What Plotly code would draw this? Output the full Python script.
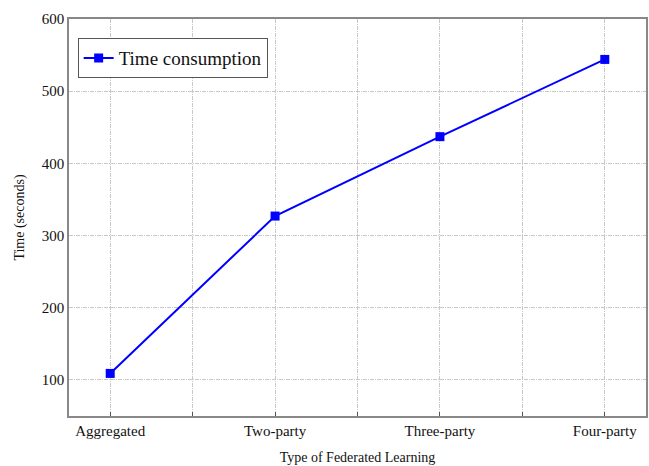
import plotly.graph_objects as go

categories = ["Aggregated", "Two-party", "Three-party", "Four-party"]
time_values = [109, 327, 437, 544]
y_ticks = [100, 200, 300, 400, 500, 600]

x_idx = list(range(len(categories)))
tickvals = [i * 0.5 for i in range(2 * len(categories) - 1)]
ticktext = [categories[int(v)] if v == int(v) else "" for v in tickvals]

FONT = "Liberation Serif, Times New Roman, serif"

fig = go.Figure()
fig.add_trace(go.Scatter(
    x=x_idx, y=time_values, mode="lines+markers", name="Time consumption",
    line=dict(color="#0000ff", width=2),
    marker=dict(symbol="square", size=9, color="#0000ff"),
))

fig.update_layout(
    width=649, height=466,
    margin=dict(l=69, r=1, t=19, b=50),
    paper_bgcolor="white", plot_bgcolor="white",
    font=dict(family=FONT, size=14, color="#111111"),
    showlegend=True,
    legend=dict(x=0.015, y=0.952, xanchor="left", yanchor="top",
                bordercolor="#555555", borderwidth=1, bgcolor="white",
                font=dict(family=FONT, size=19, color="#111111"),
                itemwidth=30, tracegroupgap=0),
)
fig.update_xaxes(
    range=[-0.25, 3.25], tickvals=tickvals, ticktext=ticktext,
    showgrid=True, gridcolor="#c8c8c8", griddash="4px,1px,1px,1px", gridwidth=1,
    showline=True, linecolor="#888888", linewidth=1.5, mirror=True,
    ticks="inside", ticklen=4, tickcolor="#555555",
    tickfont=dict(family=FONT, size=15, color="#111111"),
    title=dict(text="Type of Federated Learning", standoff=14,
               font=dict(family=FONT, size=14, color="#111111")),
    zeroline=False,
)
fig.update_yaxes(
    range=[50, 600], tickvals=y_ticks,
    showgrid=True, gridcolor="#c8c8c8", griddash="4px,1px,1px,1px", gridwidth=1,
    showline=True, linecolor="#888888", linewidth=1.5, mirror=True,
    ticks="",
    tickfont=dict(family=FONT, size=15, color="#111111"),
    title=dict(text="Time (seconds)", standoff=14,
               font=dict(family=FONT, size=14, color="#111111")),
    zeroline=False,
)
fig.write_html("out.html")
